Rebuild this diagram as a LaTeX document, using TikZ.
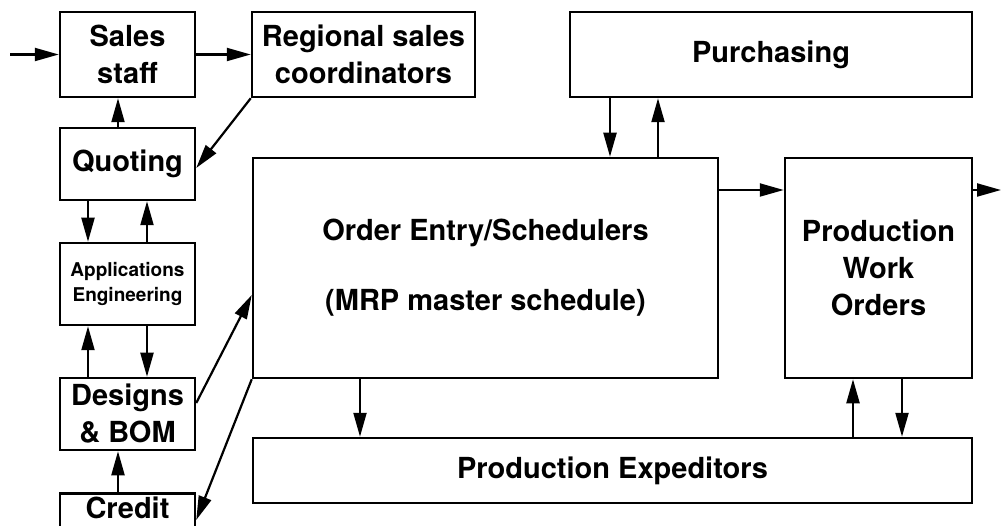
\documentclass[tikz,border=0pt]{standalone}
\usepackage{fontspec}
\setmainfont{TeX Gyre Heros}
\usetikzlibrary{arrows.meta}

\begin{document}
\begin{tikzpicture}[x=1pt,y=-1pt,
    every node/.style={font=\bfseries\fontsize{29}{37}\selectfont},
    box/.style={draw,line width=2.5pt,align=center,inner sep=0pt},
    arr/.style={-{Triangle[length=24pt,width=13pt]},line width=2.2pt}]
  \useasboundingbox (0,0) rectangle (1001,526);
  \clip (0,0) rectangle (1001,526);
  \node[box,minimum width=135,minimum height=85] (sales) at (127.5,54.5) {Sales\\staff};
  \node[box,minimum width=223,minimum height=85] (reg) at (363.5,54.5) {Regional sales\\coordinators};
  \node[box,minimum width=135,minimum height=72] (quot) at (127.5,164) {Quoting};
  \node[box,minimum width=135,minimum height=82,font=\bfseries\fontsize{19}{25}\selectfont]
     (apps) at (127.5,284) {Applications\\Engineering};
  \node[box,minimum width=135,minimum height=72] (des) at (127.5,414) {Designs\\\& BOM};
  \node[box,minimum width=135,anchor=north,text height=22pt,text depth=44pt,inner ysep=3pt]
     (cred) at (127.5,492) {Credit};
  \node[box,minimum width=465,minimum height=220] (oe) at (485.5,268)
     {Order Entry/Schedulers\\[33pt](MRP master schedule)};
  \node[box,minimum width=402,minimum height=85] (purch) at (771,54.5) {Purchasing};
  \node[box,minimum width=187,minimum height=220] (pwo) at (878.5,268)
     {Production\\Work\\Orders};
  \node[box,minimum width=719,minimum height=65] (pe) at (612.5,470.5) {Production Expeditors};
  \coordinate (in) at (10,54.5);
  \coordinate (out) at (1001,190);
  % horizontal flows
  \draw[arr] (in) -- (sales);
  \draw[arr] (sales) -- (reg);
  \draw[arr] ([yshift=78pt]oe.east) -- ([yshift=78pt]pwo.west);
  \draw[arr] ([yshift=78pt]pwo.east) -- (out);
  % left column
  \draw[arr] (reg.south west) -- ([yshift=-4pt]quot.east);
  \foreach \a/\c/\s in {quot/sales/-9.5,apps/quot/19.5,des/apps/-39.5,cred/des/-9.5}
     \draw[arr] ([xshift=\s pt]\a.north) -- ([xshift=\s pt]\c.south);
  \foreach \a/\c/\s in {quot/apps/-39.5,apps/des/19.5}
     \draw[arr] ([xshift=\s pt]\a.south) -- ([xshift=\s pt]\c.north);
  \draw[arr] ([yshift=11pt]des.east) -- ([yshift=-27pt]oe.west);
  \draw[arr] (oe.south west) -- ([yshift=-28pt]cred.north east);
  % purchasing, expeditors
  \draw[arr] ([xshift=-161pt]purch.south) -- ([xshift=124.5pt]oe.north);
  \draw[arr] ([xshift=172.5pt]oe.north) -- ([xshift=-113pt]purch.south);
  \draw[arr] ([xshift=-125.5pt]oe.south) -- ([xshift=-252.5pt]pe.north);
  \draw[arr] ([xshift=240.5pt]pe.north) -- ([xshift=-25.5pt]pwo.south);
  \draw[arr] ([xshift=23.5pt]pwo.south) -- ([xshift=289.5pt]pe.north);
\end{tikzpicture}
\end{document}
